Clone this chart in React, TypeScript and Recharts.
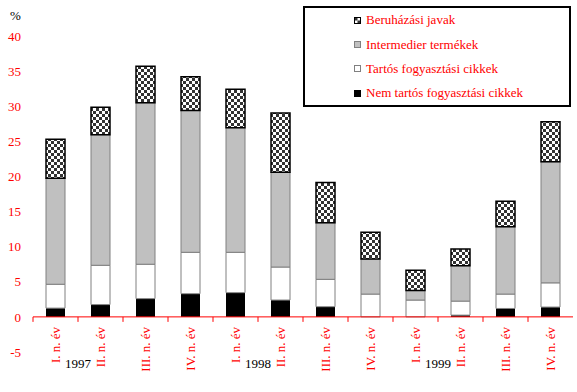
import { Bar, BarChart, ReferenceLine, XAxis, YAxis } from "recharts"

const quarters = [
  "I. n. év", "II. n. év", "III. n. év", "IV. n. év",
  "I. n. év", "II. n. év", "III. n. év", "IV. n. év",
  "I. n. év", "II. n. év", "III. n. év", "IV. n. év",
]
// year label sits on the left edge of the given category
const yearLabels = ["", "1997", "", "", "", "1998", "", "", "", "1999", "", ""]

const nemTartos = [1.25, 1.75, 2.6, 3.3, 3.45, 2.4, 1.45, 0, 0, 0.25, 1.2, 1.4]
const tartos = [3.4, 5.6, 4.9, 5.9, 5.75, 4.7, 3.9, 3.25, 2.4, 2.0, 2.05, 3.45]
const intermedier = [15.1, 18.6, 23.0, 20.2, 17.75, 13.5, 8.05, 5.0, 1.35, 5.05, 9.6, 17.25]
const beruhazasi = [5.55, 3.9, 5.2, 4.8, 5.45, 8.45, 5.75, 3.8, 2.9, 2.35, 3.6, 5.7]

const yTicks = [-5, 0, 5, 10, 15, 20, 25, 30, 35, 40]

const W = 577
const H = 392
const M_TOP = 36
const X_AXIS_H = 40
const Y_AXIS_W = 33
const M_RIGHT = 4
const PLOT_W = W - Y_AXIS_W - M_RIGHT
const PLOT_H = H - M_TOP - X_AXIS_H
const Y_MIN = -5
const Y_MAX = 40
const BAND = PLOT_W / quarters.length
const ZERO_OFFSET = (-Y_MIN * PLOT_H) / (Y_MAX - Y_MIN)

const RED = "#ff0000"
const FONT = "'Liberation Serif', 'Times New Roman', serif"

const data = quarters.map((q, i) => ({
  q,
  nemTartos: nemTartos[i],
  tartos: tartos[i],
  intermedier: intermedier[i],
  beruhazasi: beruhazasi[i],
}))

const legendItems = [
  { label: "Beruházási javak", kind: "checker" },
  { label: "Intermedier termékek", kind: "gray" },
  { label: "Tartós fogyasztási cikkek", kind: "white" },
  { label: "Nem tartós fogyasztási cikkek", kind: "black" },
]

function QuarterTick({ x, y, index, payload }: any) {
  const zeroY = y - ZERO_OFFSET
  const left = x - BAND / 2
  return (
    <g>
      <line x1={left} y1={zeroY} x2={left} y2={zeroY + 5} stroke={RED} />
      <text
        transform={`translate(${x},${zeroY + 10}) rotate(-90)`}
        textAnchor="end"
        dy="0.35em"
        fill={RED}
        fontSize={13}
        fontFamily={FONT}
      >
        {payload.value}
      </text>
      {yearLabels[index] && (
        <text x={left} y={zeroY + 51} textAnchor="middle" fill="#000" fontSize={13} fontFamily={FONT}>
          {yearLabels[index]}
        </text>
      )}
    </g>
  )
}

function LegendIcon({ kind }: { kind: string }) {
  if (kind === "checker") {
    return (
      <svg width={7} height={7} style={{ display: "block" }}>
        <rect x={0} y={0} width={7} height={7} fill="#000" />
        <rect x={1} y={1} width={5} height={5} fill="#fff" />
        <rect x={1} y={1} width={2.5} height={2.5} fill="#333" />
        <rect x={3.5} y={3.5} width={2.5} height={2.5} fill="#333" />
      </svg>
    )
  }
  const fill = kind === "gray" ? "#c0c0c0" : kind === "white" ? "#fff" : "#000"
  const stroke = kind === "black" ? "#000" : "#808080"
  return (
    <svg width={7} height={7} style={{ display: "block" }}>
      <rect x={0.5} y={0.5} width={6} height={6} fill={fill} stroke={stroke} />
    </svg>
  )
}

export default function App() {
  return (
    <div style={{ position: "relative", width: W, height: H, fontFamily: FONT }}>
      <style>{"body{margin:0}"}</style>
      <BarChart
        width={W}
        height={H}
        data={data}
        margin={{ top: M_TOP, right: M_RIGHT, left: 0, bottom: 0 }}
        barSize={19}
      >
        <defs>
          <pattern id="checker" patternUnits="userSpaceOnUse" width={6} height={6}>
            <rect x={0} y={0} width={6} height={6} fill="#fff" />
            <rect x={0} y={0} width={3} height={3} fill="#333" />
            <rect x={3} y={3} width={3} height={3} fill="#333" />
          </pattern>
        </defs>
        <XAxis
          dataKey="q"
          height={X_AXIS_H}
          axisLine={false}
          tickLine={false}
          tickSize={0}
          tickMargin={0}
          interval={0}
          tick={<QuarterTick />}
        />
        <YAxis
          width={Y_AXIS_W}
          domain={[Y_MIN, Y_MAX]}
          ticks={yTicks}
          interval={0}
          axisLine={false}
          tickLine={false}
          tickSize={6}
          tickMargin={6}
          tick={{ fill: RED, fontSize: 13, fontFamily: FONT }}
        />
        <Bar dataKey="nemTartos" stackId="a" fill="#000" isAnimationActive={false} />
        <Bar dataKey="tartos" stackId="a" fill="#fff" stroke="#808080" strokeWidth={1} isAnimationActive={false} />
        <Bar dataKey="intermedier" stackId="a" fill="#c0c0c0" stroke="#808080" strokeWidth={1} isAnimationActive={false} />
        <Bar dataKey="beruhazasi" stackId="a" fill="url(#checker)" stroke="#000" strokeWidth={1.5} isAnimationActive={false} />
        <ReferenceLine y={0} stroke={RED} strokeWidth={1} ifOverflow="extendDomain" />
      </BarChart>

      <div style={{ position: "absolute", left: 10, top: 9, fontSize: 13, lineHeight: "13px", color: "#000" }}>%</div>

      <div
        style={{
          position: "absolute",
          left: 303,
          top: 6,
          width: 268,
          height: 101,
          boxSizing: "border-box",
          border: "2px solid #000",
          background: "#fff",
          paddingLeft: 49,
        }}
      >
        {legendItems.map((it) => (
          <div
            key={it.label}
            style={{ display: "flex", alignItems: "center", height: 24.4, gap: 5, color: RED, fontSize: 13, whiteSpace: "nowrap" }}
          >
            <LegendIcon kind={it.kind} />
            <span>{it.label}</span>
          </div>
        ))}
      </div>
    </div>
  )
}
